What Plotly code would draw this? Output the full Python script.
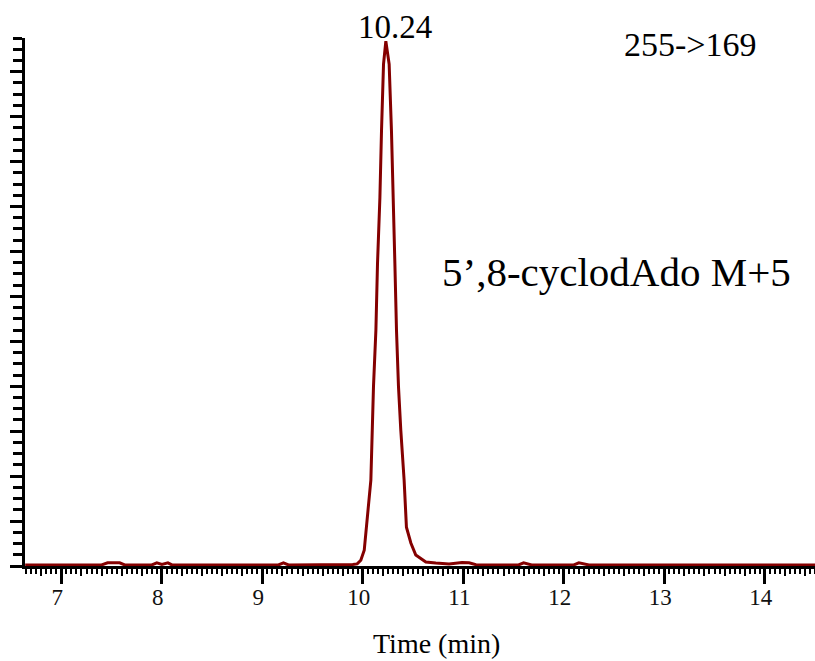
import plotly.graph_objects as go

# Retention time (min) and relative intensity (%)
time_min = [6.64, 7.40, 7.46, 7.52, 7.58, 7.63, 7.90, 7.95, 8.00, 8.06, 8.10,
            9.16, 9.21, 9.26, 9.85, 9.90, 9.944, 9.98, 10.014, 10.044, 10.08,
            10.106, 10.130, 10.146, 10.170, 10.186, 10.206, 10.229, 10.262,
            10.285, 10.299, 10.319, 10.335, 10.355, 10.378, 10.411, 10.434,
            10.478, 10.527, 10.627, 10.726, 10.858, 10.987, 11.057, 11.126,
            11.55, 11.60, 11.68, 12.10, 12.15, 12.25, 14.50]
intensity = [0.0, 0.0, 0.4, 0.4, 0.4, 0.0, 0.0, 0.4, 0.1, 0.4, 0.0,
             0.0, 0.4, 0.0, 0.0, 0.1, 0.2, 0.9, 2.8, 8.6, 16.2,
             34.0, 44.8, 57.5, 70.2, 82.9, 95.6, 100.0, 95.6,
             82.9, 70.2, 57.5, 44.8, 34.0, 25.7, 16.2, 7.2,
             4.2, 1.9, 0.55, 0.36, 0.2, 0.45, 0.4, 0.05,
             0.0, 0.4, 0.0, 0.0, 0.4, 0.0, 0.0]

peak_time = 10.229
peak_label = "10.24"
transition = "255->169"
compound = "5\u2019,8-cyclodAdo M+5"
x_title = "Time (min)"
x_range = [6.638, 14.5]
y_range = [-0.2, 100.6]

FONT = "Liberation Serif, Times New Roman, serif"
RED = "#840000"

fig = go.Figure()
fig.add_trace(go.Scatter(x=time_min, y=intensity, mode="lines",
                         line=dict(color=RED, width=3), hoverinfo="skip",
                         showlegend=False))
# invisible trace to carry the secondary (medium tick) x-axis
fig.add_trace(go.Scatter(x=time_min, y=intensity, mode="lines", xaxis="x2",
                         line=dict(color="rgba(0,0,0,0)", width=0),
                         hoverinfo="skip", showlegend=False))

ystep = (y_range[1] - y_range[0]) / 47

fig.update_layout(
    width=815, height=661,
    margin=dict(l=25, r=0, t=38, b=95),
    paper_bgcolor="white", plot_bgcolor="white",
    font=dict(family=FONT, color="black"),
    xaxis=dict(range=x_range, showgrid=False, zeroline=False,
               showline=True, linecolor="black", linewidth=3,
               ticks="outside", tick0=0, dtick=1, ticklen=15, tickwidth=3,
               tickcolor="black", ticklabelshift=-4, ticklabelstandoff=-7,
               tickfont=dict(family=FONT, size=23, color="#111"),
               layer="below traces",
               minor=dict(ticks="outside", tick0=0, dtick=0.05, ticklen=5,
                          tickwidth=2, tickcolor="black", showgrid=False)),
    xaxis2=dict(overlaying="x", matches="x", anchor="y", side="bottom",
                showgrid=False, zeroline=False, showline=False,
                ticks="outside", tick0=0, dtick=0.2, ticklen=9, tickwidth=2,
                tickcolor="black", showticklabels=False, layer="below traces"),
    yaxis=dict(range=y_range, showgrid=False, zeroline=False,
               showline=True, linecolor="black", linewidth=3,
               ticks="outside", tick0=y_range[0], dtick=ystep * 4,
               ticklen=12, tickwidth=3, tickcolor="black",
               showticklabels=False, layer="below traces",
               minor=dict(ticks="outside", tick0=y_range[0], dtick=ystep,
                          ticklen=9, tickwidth=3, tickcolor="black",
                          showgrid=False)),
)

fig.add_annotation(x=peak_time, y=max(intensity), text=peak_label,
                   showarrow=False, xanchor="center", yanchor="bottom",
                   xshift=9, yshift=-6,
                   font=dict(family=FONT, size=33, color="black"))
fig.add_annotation(x=0.843, y=0.9868, xref="paper", yref="paper",
                   text=transition, showarrow=False, xanchor="center",
                   yanchor="middle",
                   font=dict(family=FONT, size=34, color="black"))
fig.add_annotation(x=0.7487, y=0.5577, xref="paper", yref="paper",
                   text=compound, showarrow=False, xanchor="center",
                   yanchor="middle",
                   font=dict(family=FONT, size=41, color="black"))
fig.add_annotation(x=0.5211, y=-0.1474, xref="paper", yref="paper",
                   text=x_title, showarrow=False, xanchor="center",
                   yanchor="middle",
                   font=dict(family=FONT, size=28, color="black"))

fig.write_html(
    "out.html",
    config={"displayModeBar": False, "staticPlot": True},
    post_script="document.body.style.margin='0';"
                "document.body.style.overflow='hidden';",
)
